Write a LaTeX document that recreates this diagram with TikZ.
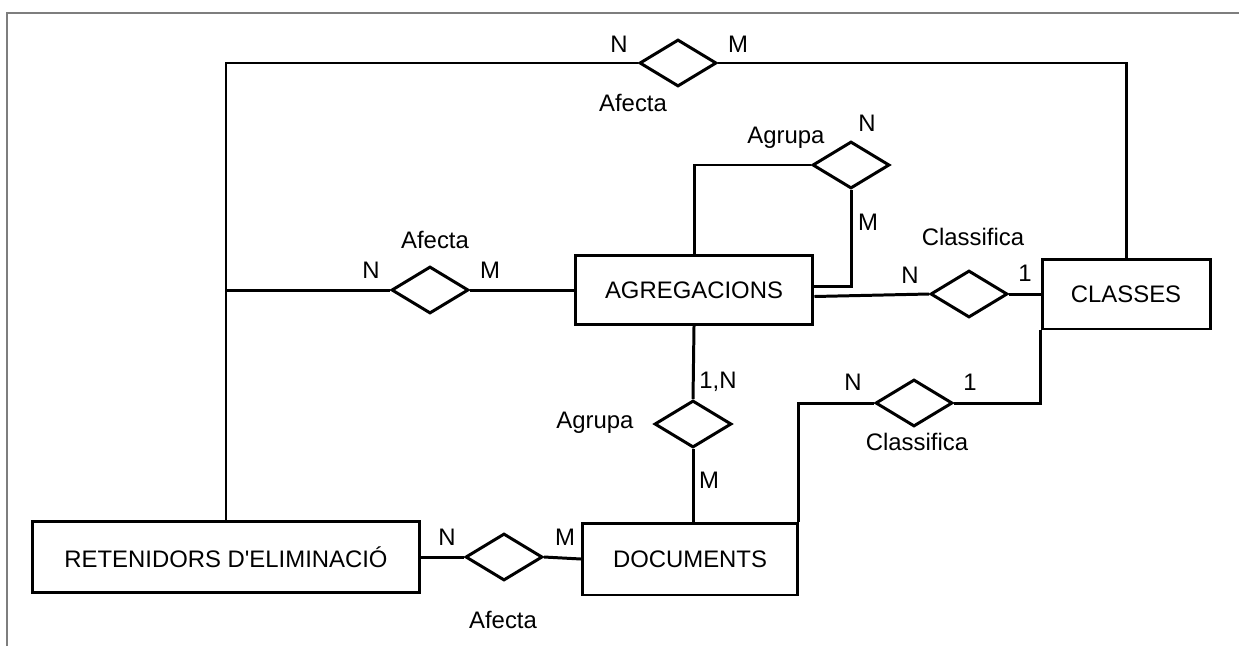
\documentclass[tikz,border=0pt]{standalone}
\usepackage{fontspec}
\setmainfont{Liberation Sans}
\usetikzlibrary{shapes.geometric,positioning}
\definecolor{framegrey}{HTML}{7E7E7E}

\begin{document}
\begin{tikzpicture}[x=0.02cm, y=-0.02cm, line width=1.7pt, every node/.style={font=\fontsize{13.6}{16}\selectfont},
  ent/.style={draw, rectangle, inner sep=0pt},
  rel/.style={draw, diamond, inner sep=0pt, minimum width=1.54cm, minimum height=0.94cm},
  card/.style={inner sep=0pt}]
\useasboundingbox (0,0) rectangle (1239,646);
\draw[framegrey, line width=1.1pt] (7,646) -- (7,13) -- (1239,13);
\node[ent, minimum width=4.76cm, minimum height=1.38cm] (agr) at (694,290) {AGREGACIONS};
\node[ent, minimum width=3.36cm, minimum height=1.4cm] (cla) at (1126,294) {CLASSES};
\node[ent, minimum width=7.74cm, minimum height=1.42cm] (ret) at (226,557) {RETENIDORS D\textquotesingle ELIMINACIÓ};
\node[ent, minimum width=4.3cm, minimum height=1.44cm] (doc) at (690,559) {DOCUMENTS};
\node[rel] (afTop) at (678,63) {};
\node[rel] (afMid) at (430,290) {};
\node[rel] (agSelf) at (851,165) {};
\node[rel] (clAgr) at (969,294) {};
\node[rel] (agDoc) at (693,424) {};
\node[rel] (clDoc) at (914,403) {};
\node[rel] (afDoc) at (504,557) {};
\coordinate (jn) at (ret.north |- afMid);
\draw (ret.north) |- (afTop.west);
\draw (afTop.east) -| (cla.north);
\draw (jn) -- (afMid.west);
\draw (afMid.east) -- (agr.west);
\draw (agr.north) |- (agSelf.west);
\draw (agSelf.south) |- ([yshift=0.07cm]agr.east);
\draw ([yshift=-0.13cm]agr.east) -- (clAgr.west);
\draw (clAgr.east) -- (cla.west);
\draw (agr.south) -- (agDoc.north);
\draw (agDoc.south) -- (agDoc.south |- doc.north);
\draw (doc.north east) |- (clDoc.west);
\draw (clDoc.east) -| (cla.south west);
\draw (ret.east) -- (afDoc.west);
\draw (afDoc.east) -- (doc.west);
\node[card] (afTopN) at (619,44) {N};
\node[card] (afTopM) at (738,44) {M};
\node (afTopT) at (633,103) {Afecta};
\node (afMidT) at (435,240) {Afecta};
\node[card] (afMidN) at (371,270) {N};
\node[card] (afMidM) at (490,270) {M};
\node (agSelfT) at (786,138) {Agrupa};
\node[card] (agSelfN) at (867,123) {N};
\node[card] (agSelfM) at (868,222) {M};
\node (clAgrT) at (973,237) {Classifica};
\node[card] (clAgrN) at (910,275) {N};
\node[card] (clAgr1) at (1025,273) {1};
\node[card] (agDocN) at (718,382) {1,N};
\node (agDocT) at (595,423) {Agrupa};
\node[card] (agDocM) at (709,480) {M};
\node[card] (clDocN) at (853,382) {N};
\node[card] (clDoc1) at (970,382) {1};
\node (clDocT) at (917,442) {Classifica};
\node[card] (afDocN) at (447,537) {N};
\node[card] (afDocM) at (565,537) {M};
\node (afDocT) at (503,620) {Afecta};
\end{tikzpicture}
\end{document}
